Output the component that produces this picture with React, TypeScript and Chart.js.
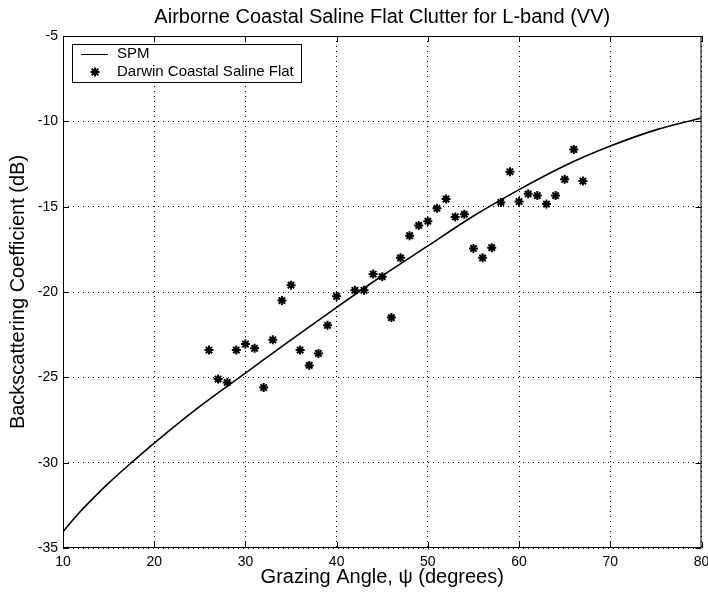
import React, { useEffect, useRef } from "react";
import { Chart, registerables } from "chart.js";

Chart.register(...registerables);

const titleText = "Airborne Coastal Saline Flat Clutter for L-band (VV)";
const xLabel = "Grazing Angle, \u03C8 (degrees)";
const yLabel = "Backscattering Coefficient (dB)";
const lineLabel = "SPM";
const pointLabel = "Darwin Coastal Saline Flat";

const spmAngle = [10, 11, 12, 13, 15, 17.5, 20, 25, 30, 35, 40, 45, 50, 55, 60, 65, 70, 75, 80];
const spmValue = [-34.05, -33.4, -32.8, -32.25, -31.2, -30.0, -28.85, -26.7, -24.75, -22.8, -20.9, -19.05, -17.3, -15.55, -14.0, -12.6, -11.45, -10.5, -9.8];

const darwinAngle = [26, 27, 28, 29, 30, 31, 32, 33, 34, 35, 36, 37, 38, 39, 40, 42, 43, 44, 45, 46, 47, 48, 49, 50, 51, 52, 53, 54, 55, 56, 57, 58, 59, 60, 61, 62, 63, 64, 65, 66, 67];
const darwinValue = [-23.4, -25.1, -25.3, -23.4, -23.05, -23.3, -25.6, -22.8, -20.5, -19.6, -23.4, -24.3, -23.6, -21.95, -20.25, -19.9, -19.9, -18.95, -19.1, -21.5, -18.0, -16.7, -16.1, -15.85, -15.1, -14.55, -15.6, -15.45, -17.45, -18.0, -17.4, -14.75, -12.95, -14.7, -14.25, -14.35, -14.85, -14.35, -13.4, -11.65, -13.5];

const xMin = 10, xMax = 80, xStep = 10;
const yMin = -35, yMax = -5, yStep = 5;

const FONT = "'Liberation Sans', Arial, Helvetica, sans-serif";

const framePlugin = {
  id: "matlabFrame",
  afterDraw(chart: any) {
    const { ctx, chartArea } = chart;
    const { left, right, top, bottom } = chartArea;
    const xs = chart.scales.x;
    const ys = chart.scales.y;
    ctx.save();
    ctx.strokeStyle = "#000";
    ctx.lineWidth = 1;
    ctx.setLineDash([]);
    ctx.strokeRect(left + 0.5, top + 0.5, right - left - 1, bottom - top - 1);
    const tl = 6;
    ctx.beginPath();
    xs.ticks.forEach((t: any) => {
      const px = Math.round(xs.getPixelForValue(t.value)) + 0.5;
      ctx.moveTo(px, bottom);
      ctx.lineTo(px, bottom - tl);
      ctx.moveTo(px, top);
      ctx.lineTo(px, top + tl);
    });
    ys.ticks.forEach((t: any) => {
      const py = Math.round(ys.getPixelForValue(t.value)) + 0.5;
      ctx.moveTo(left, py);
      ctx.lineTo(left + tl, py);
      ctx.moveTo(right, py);
      ctx.lineTo(right - tl, py);
    });
    ctx.stroke();

    // legend box
    const bx = 72, by = 44, bw = 229, bh = 38;
    ctx.fillStyle = "#fff";
    ctx.fillRect(bx, by, bw, bh);
    ctx.strokeRect(bx + 0.5, by + 0.5, bw, bh);
    ctx.beginPath();
    ctx.lineWidth = 1;
    ctx.moveTo(81, 54.5);
    ctx.lineTo(108, 54.5);
    ctx.stroke();
    ctx.fillStyle = "#000";
    ctx.font = `15px ${FONT}`;
    ctx.textBaseline = "middle";
    ctx.textAlign = "left";
    ctx.fillText(lineLabel, 117, 54);
    ctx.fillText(pointLabel, 117, 72);
    ctx.lineWidth = 2;
    // star marker sample
    (Chart as any).helpers?.drawPoint
      ? null
      : null;
    const r = 4.5;
    ctx.beginPath();
    for (let i = 0; i < 4; i++) {
      const a = (i * Math.PI) / 4;
      ctx.moveTo(95 + r * Math.cos(a), 72 + r * Math.sin(a));
      ctx.lineTo(95 - r * Math.cos(a), 72 - r * Math.sin(a));
    }
    ctx.stroke();
    ctx.restore();
  },
};

export default function App() {
  const ref = useRef<HTMLCanvasElement | null>(null);
  useEffect(() => {
    if (!ref.current) return;
    const chart = new Chart(ref.current, {
      type: "scatter",
      data: {
        datasets: [
          {
            label: lineLabel,
            data: spmAngle.map((x, i) => ({ x, y: spmValue[i] })),
            showLine: true,
            borderColor: "#000",
            backgroundColor: "#000",
            borderWidth: 1.6,
            pointRadius: 0,
            cubicInterpolationMode: "monotone",
          },
          {
            label: pointLabel,
            data: darwinAngle.map((x, i) => ({ x, y: darwinValue[i] })),
            showLine: false,
            pointStyle: "star",
            pointRadius: 4.5,
            borderWidth: 2,
            borderColor: "#000",
            backgroundColor: "#000",
          },
        ],
      },
      options: {
        animation: false,
        responsive: false,
        layout: { padding: { left: 0, right: 5, top: 0, bottom: 0 } },
        plugins: {
          legend: { display: false },
          tooltip: { enabled: false },
          title: {
            display: true,
            text: titleText,
            fullSize: false,
            color: "#000",
            font: { family: FONT, size: 20, weight: "normal" },
            padding: { top: 5, bottom: 7 },
          },
        },
        scales: {
          x: {
            type: "linear",
            min: xMin,
            max: xMax,
            ticks: {
              stepSize: xStep,
              color: "#000",
              font: { family: FONT, size: 14 },
              padding: 6,
              maxRotation: 0,
            },
            grid: { color: "#000", drawTicks: false, lineWidth: 1 },
            border: { display: false, dash: [1, 4] },
            title: {
              display: true,
              text: xLabel,
              color: "#000",
              font: { family: FONT, size: 20 },
              padding: { top: 0, bottom: 3 },
            },
            afterFit: (s: any) => {
              s.height = 44;
              s.paddingRight = 0;
              s.paddingLeft = 0;
            },
          },
          y: {
            type: "linear",
            min: yMin,
            max: yMax,
            ticks: {
              stepSize: yStep,
              color: "#000",
              font: { family: FONT, size: 14 },
              padding: 5,
            },
            grid: { color: "#000", drawTicks: false, lineWidth: 1 },
            border: { display: false, dash: [1, 4] },
            title: {
              display: true,
              text: yLabel,
              color: "#000",
              font: { family: FONT, size: 20 },
              padding: { top: 6, bottom: 0 },
            },
            afterFit: (s: any) => {
              s.width = 63;
              s.paddingTop = 0;
              s.paddingBottom = 0;
            },
          },
        },
      },
      plugins: [framePlugin],
    } as any);
    return () => chart.destroy();
  }, []);
  return (
    <div style={{ position: "absolute", left: 0, top: 0, width: 708, height: 592, background: "#fff" }}>
      <canvas ref={ref} width={708} height={592} style={{ display: "block" }} />
    </div>
  );
}
